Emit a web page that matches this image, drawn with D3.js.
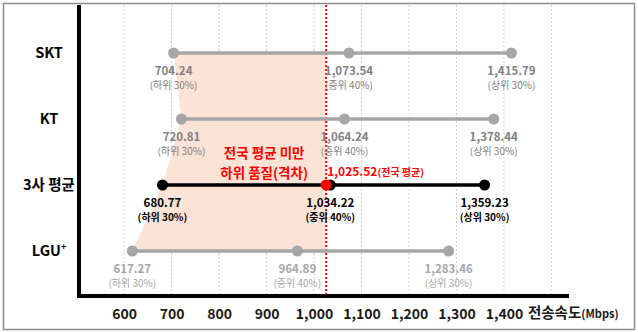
<!DOCTYPE html>
<html><head><meta charset="utf-8">
<script src="https://cdn.jsdelivr.net/npm/d3@7"></script>
<style>
body{margin:0;background:#fff;}
text{font-family:"Noto Sans CJK KR","Noto Sans",sans-serif;}
</style></head>
<body>
<svg id="c" width="638" height="332"></svg>
<script>
const categories = ["SKT", "KT", "3사 평균", "LGU"];
const lowValues  = [704.24, 720.81, 680.77, 617.27];
const midValues  = [1073.54, 1064.24, 1034.22, 964.89];
const highValues = [1415.79, 1378.44, 1359.23, 1283.46];
const lowLabel = "(하위 30%)", midLabel = "(중위 40%)", highLabel = "(상위 30%)";
const nationalAvg = 1025.52;
const tickValues = [600, 700, 800, 900, 1000, 1100, 1200, 1300, 1400];
const gridValues = [600, 700, 800, 900, 1000, 1100, 1200, 1300, 1400, 1500];
const annotationLines = ["전국 평균 미만", "하위 품질(격차)"];

const svg = d3.select("#c");
const x = d3.scaleLinear().domain([505, 1537]).range([79, 569]);
const y = d3.scalePoint().domain(categories).range([53, 251]);
const fmt = d3.format(",.2f");
const axisY = 296, topY = 5;

// border
svg.append("rect").attr("x",3.5).attr("y",3.5).attr("width",631).attr("height",326)
  .attr("fill","#fff").attr("stroke","#8c8c8c").attr("stroke-width",1.5);

// gridlines
svg.append("g").selectAll("line").data(gridValues).join("line")
  .attr("x1",d=>x(d)).attr("x2",d=>x(d)).attr("y1",topY).attr("y2",axisY)
  .attr("stroke","#cfcfcf").attr("stroke-width",1).attr("stroke-dasharray","2,2");

// shaded region (below-average gap)
const poly = categories.map((c,i)=>[x(lowValues[i]), y(c)]);
poly.push([x(nationalAvg), y(categories[categories.length-1])]);
poly.push([x(nationalAvg), y(categories[0])]);
svg.append("path").attr("d", d3.line()(poly)+"Z").attr("fill","#fbe3d5");

// axes
const xAxis = d3.axisBottom(x).tickValues(tickValues).tickFormat(d3.format(",")).tickSize(0).tickPadding(10);
const gx = svg.append("g").attr("transform",`translate(0,${axisY})`).call(xAxis);
gx.select(".domain").remove();
gx.selectAll("text").attr("font-size",14).attr("font-weight","bold").attr("fill","#1a1a1a").attr("dy","0.95em")
  .attr("font-family","\"Noto Sans CJK KR\",sans-serif");
svg.append("line").attr("x1",x(505)).attr("x2",x(1537)).attr("y1",axisY).attr("y2",axisY)
  .attr("stroke","#000").attr("stroke-width",4);
svg.append("line").attr("x1",x(505)).attr("x2",x(505)).attr("y1",topY).attr("y2",axisY+2)
  .attr("stroke","#000").attr("stroke-width",4);

// axis title
const at = svg.append("text").attr("x",x(1400)+24).attr("y",axisY+22).attr("font-weight","bold").attr("fill","#1a1a1a");
at.append("tspan").attr("font-size",14.5).text("전송속도");
at.append("tspan").attr("font-size",11).text("(Mbps)");

// category labels
categories.forEach((c,i)=>{
  const t = svg.append("text").attr("x",49).attr("y",y(c)).attr("dy","0.35em")
    .attr("text-anchor","middle").attr("font-size",14.5).attr("font-weight","bold").attr("fill","#000");
  t.append("tspan").text(c);
  if (c === "LGU") t.append("tspan").attr("font-size",9).attr("dy","-0.7em").text("+");
});

// national average line
svg.append("line").attr("x1",x(nationalAvg)).attr("x2",x(nationalAvg)).attr("y1",topY).attr("y2",axisY-2)
  .attr("stroke","#ff0000").attr("stroke-width",2).attr("stroke-dasharray","2,2");

// rows
categories.forEach((c,i)=>{
  const isAvg = c === "3사 평균";
  const isL = c === "LGU";
  const lineCol = isAvg ? "#000" : "#a6a6a6";
  const txtCol = isAvg ? "#000" : (isL ? "#a6a6a6" : "#808080");
  const g = svg.append("g");
  g.append("line").attr("x1",x(lowValues[i])).attr("x2",x(highValues[i])).attr("y1",y(c)).attr("y2",y(c))
    .attr("stroke",lineCol).attr("stroke-width",3.5);
  const pts = [[lowValues[i],lowLabel],[midValues[i],midLabel],[highValues[i],highLabel]];
  g.selectAll("circle").data(pts).join("circle")
    .attr("cx",d=>x(d[0])).attr("cy",y(c)).attr("r",5.5).attr("fill",lineCol);
  pts.forEach(d=>{
    g.append("text").attr("x",x(d[0])).attr("y",y(c)+21.5).attr("text-anchor","middle")
      .attr("font-size",11.5).attr("font-weight","bold").attr("fill",txtCol).text(fmt(d[0]));
    g.append("text").attr("x",x(d[0])).attr("y",y(c)+36).attr("text-anchor","middle")
      .attr("font-size",10).attr("font-weight", isAvg ? "bold" : "normal").attr("fill",txtCol).text(d[1]);
  });
});

// national average dot + label
const yAvg = y("3사 평균");
svg.append("circle").attr("cx",x(nationalAvg)).attr("cy",yAvg).attr("r",5.5).attr("fill","#ff0000");
const rl = svg.append("text").attr("x",x(nationalAvg)+1).attr("y",yAvg-9).attr("font-weight","bold").attr("fill","#ff0000");
rl.append("tspan").attr("font-size",12).text(fmt(nationalAvg));
rl.append("tspan").attr("font-size",10).text("(전국 평균)");

// annotation
annotationLines.forEach((t,i)=>{
  svg.append("text").attr("x",x(895)).attr("y",157.5 + i*20).attr("text-anchor","middle")
    .attr("font-weight","bold").attr("fill","#ff0000").attr("font-size",13.5).text(t);
});
</script>
</body></html>
